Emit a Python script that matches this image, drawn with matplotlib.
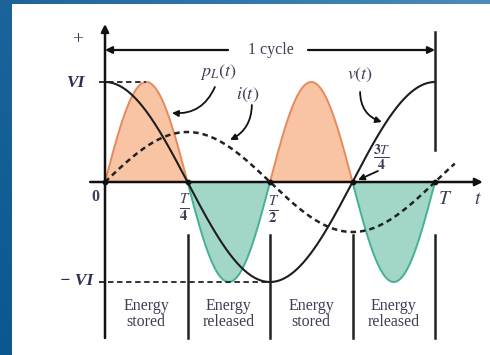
import numpy as np
import matplotlib
matplotlib.use("Agg")
import matplotlib.pyplot as plt

plt.rcParams['mathtext.fontset'] = 'stix'
plt.rcParams['font.family'] = ['Liberation Serif', 'DejaVu Serif']

# ---- data (in units of period T and of peak VI) ----
v_amp = 1.0          # v(t) peak drawn at VI level
i_amp = 0.5          # i(t) peak
p_amp = 1.0          # p_L(t) peak
t_end_current = 1.06 # dashed i(t) runs slightly past T
tick_pos = [0.0, 0.25, 0.5, 0.75, 1.0]
region_labels = ["Energy\nstored", "Energy\nreleased", "Energy\nstored", "Energy\nreleased"]
region_centers = [0.125, 0.375, 0.625, 0.875]

TXT = '#3e3e56'
NAVY = '#2c2e52'
ORANGE_FILL = '#f8c4a4'
ORANGE_EDGE = '#e58a5e'
TEAL_FILL = '#a2d7c8'
TEAL_EDGE = '#45b096'

W, H = 490, 355
fig = plt.figure(figsize=(W / 100, H / 100), dpi=100)

# blue gradient frame behind
bg = fig.add_axes([0, 0, 1, 1])
gx = np.linspace(0, 1, 256)
gy = np.linspace(0, 1, 64)
GX, GY = np.meshgrid(gx, gy)
c0 = np.array([0x0b, 0x57, 0x90]) / 255
c1 = np.array([0x4c, 0x8c, 0xbb]) / 255
mix = np.clip(0.75 * GX + 0.25 * (1 - GY), 0, 1)[..., None]
img = c0 * (1 - mix) + c1 * mix
bg.imshow(img, extent=[0, 1, 0, 1], aspect='auto', origin='upper')
bg.set_axis_off()

# main drawing area (white)
x0px, y0px = 12, 4
ax = fig.add_axes([x0px / W, 0, (W - x0px) / W, (H - y0px) / H])
ax.set_facecolor('white')
ox, oy, sx, sy = 105, 182, 330, 100
ax.set_xlim((x0px - ox) / sx, (W - ox) / sx)
ax.set_ylim((oy - H) / sy, (oy - y0px) / sy)
for s in ax.spines.values():
    s.set_visible(False)
ax.set_xticks([])
ax.set_yticks([])

t = np.linspace(0, 1, 600)
v = v_amp * np.cos(2 * np.pi * t)
p = p_amp * np.sin(4 * np.pi * t)
ti = np.linspace(0, t_end_current, 600)
cur = i_amp * np.sin(2 * np.pi * ti)

# power lobes
pos = p >= 0
ax.fill_between(t, 0, p, where=pos, color=ORANGE_FILL, lw=0, zorder=1)
ax.fill_between(t, 0, p, where=~pos, color=TEAL_FILL, lw=0, zorder=1)
for k in range(4):
    m = (t >= k * 0.25) & (t <= (k + 1) * 0.25)
    ax.plot(t[m], p[m], color=ORANGE_EDGE if k % 2 == 0 else TEAL_EDGE, lw=1.4, zorder=2)

# current (dashed) and voltage (solid)
ax.plot(ti, cur, color='#222222', lw=1.8, ls=(0, (2.2, 1.6)), zorder=3)
ax.plot(t, v, color='#1e1e1e', lw=1.5, zorder=4)

# axes
ax.annotate('', xy=(0, 1.58), xytext=(0, -1.56),
            arrowprops=dict(arrowstyle='-|>', lw=1.8, color='#111111', mutation_scale=11, shrinkA=0, shrinkB=0), zorder=5)
ax.annotate('', xy=(1.145, 0), xytext=(-0.045, 0),
            arrowprops=dict(arrowstyle='-|>', lw=1.8, color='#111111', mutation_scale=11, shrinkA=0, shrinkB=0), zorder=5)
ax.scatter(tick_pos, [0] * len(tick_pos), s=10, color='#111111', zorder=6)

# VI reference lines
ax.plot([-0.018, 0.125], [1, 1], color='#222222', lw=1.3, ls=(0, (3, 2)), zorder=3)
ax.plot([-0.018, 0.5], [-1, -1], color='#222222', lw=1.3, ls=(0, (3, 2)), zorder=3)

# 1 cycle arrows
ax.annotate('', xy=(0, 1.32), xytext=(0.373, 1.32),
            arrowprops=dict(arrowstyle='-|>', lw=1.6, color='#111111', mutation_scale=10, shrinkA=0, shrinkB=0))
ax.annotate('', xy=(1.0, 1.32), xytext=(0.615, 1.32),
            arrowprops=dict(arrowstyle='-|>', lw=1.6, color='#111111', mutation_scale=10, shrinkA=0, shrinkB=0))
ax.text(0.503, 1.32, '1 cycle', ha='center', va='center', fontsize=11.5, color=TXT)
ax.plot([1.0, 1.0], [1.5, 0.32], color='#222222', lw=1.8, zorder=5)

# region separators
for xp, ytop in zip(tick_pos[1:], [-0.53, -0.53, -0.53, -0.53]):
    ax.plot([xp, xp], [ytop, -1.56], color='#222222', lw=1.8, zorder=5)
for xc, lab in zip(region_centers, region_labels):
    ax.text(xc, -1.32, lab, ha='center', va='center', fontsize=11.5, color=TXT, linespacing=0.95)

# tick / level labels
ax.text(-0.082, 1.42, '+', ha='center', va='center', fontsize=14, color=TXT)
ax.text(-0.088, 0.99, 'VI', ha='center', va='center', fontsize=12.5, color=NAVY,
        fontweight='bold', fontstyle='italic')
ax.text(-0.036, -0.99, '\u2212 VI', ha='right', va='center', fontsize=12.5, color=NAVY,
        fontweight='bold', fontstyle='italic')
ax.text(-0.03, -0.15, '0', ha='center', va='center', fontsize=11.5, color=TXT, fontweight='bold')
ax.text(0.242, -0.26, r'$\mathbf{\frac{\mathit{T}}{4}}$', ha='center', va='center', fontsize=15, color=TXT)
ax.text(0.51, -0.28, r'$\mathbf{\frac{\mathit{T}}{2}}$', ha='center', va='center', fontsize=15, color=TXT)
ax.text(0.84, 0.24, r'$\mathbf{\frac{3\mathit{T}}{4}}$', ha='center', va='center', fontsize=14, color=TXT)
ax.text(1.03, -0.18, r'$T$', ha='center', va='center', fontsize=14, color=TXT)
ax.text(1.13, -0.18, r'$t$', ha='center', va='center', fontsize=14, color=TXT)

# curve labels with curved arrows
ax.text(0.342, 1.1, r'$p_L(t)$', ha='center', va='center', fontsize=13, color=TXT)
ax.text(0.433, 0.87, r'$i(t)$', ha='center', va='center', fontsize=13, color=TXT)
ax.text(0.773, 1.07, r'$v(t)$', ha='center', va='center', fontsize=13, color=TXT)
arr = dict(arrowstyle='-|>', lw=1.3, color='#111111', mutation_scale=9, shrinkA=0, shrinkB=0)
ax.annotate('', xy=(0.203, 0.69), xytext=(0.333, 0.95),
            arrowprops=dict(connectionstyle='arc3,rad=-0.35', **arr), zorder=7)
ax.annotate('', xy=(0.379, 0.42), xytext=(0.445, 0.77),
            arrowprops=dict(connectionstyle='arc3,rad=-0.3', **arr), zorder=7)
ax.annotate('', xy=(0.839, 0.6), xytext=(0.773, 0.9),
            arrowprops=dict(connectionstyle='arc3,rad=0.35', **arr), zorder=7)
ax.annotate('', xy=(0.767, 0.02), xytext=(0.827, 0.11),
            arrowprops=dict(connectionstyle='arc3,rad=0', **arr), zorder=7)

fig.savefig('out.png', dpi=100)
